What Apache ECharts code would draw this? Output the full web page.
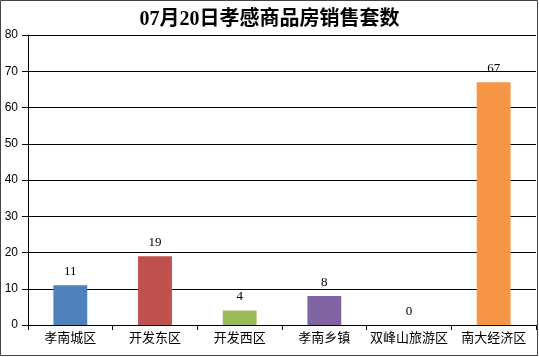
<!DOCTYPE html>
<html><head><meta charset="utf-8">
<script src="https://cdn.jsdelivr.net/npm/echarts@6/dist/echarts.min.js"></script>
<style>html,body{margin:0;padding:0;background:#fff}#c{width:539px;height:357px}</style>
</head><body><div id="c"></div>
<script>
const categories = ['孝南城区','开发东区','开发西区','孝南乡镇','双峰山旅游区','南大经济区'];
const values = [11, 19, 4, 8, 0, 67];
const colors = ['#4F81BD','#C0504D','#9BBB59','#8064A2','#4BACC6','#F79646'];
const titleText = '07月20日孝感商品房销售套数';

const chart = echarts.init(document.getElementById('c'));
chart.setOption({
  animation: false,
  backgroundColor: '#fff',
  title: {
    text: titleText, left: 'center', top: 5,
    textStyle: {fontFamily: 'Liberation Serif, Noto Sans CJK SC', fontSize: 20, fontWeight: 'bold', color: '#000'}
  },
  graphic: [{type: 'rect', shape: {x: 0.5, y: 0.5, width: 537, height: 355}, style: {fill: 'none', stroke: '#444', lineWidth: 1}}],
  grid: {left: 28, right: 3, top: 35, bottom: 32},
  xAxis: {
    type: 'category', data: categories,
    axisLine: {lineStyle: {color: '#000'}},
    axisTick: {show: true, length: 5, lineStyle: {color: '#000'}},
    axisLabel: {color: '#000', fontSize: 13, fontFamily: 'Noto Sans CJK SC', margin: 6, interval: 0}
  },
  yAxis: {
    type: 'value', min: 0, max: 80, interval: 10,
    axisLine: {show: true, lineStyle: {color: '#000'}},
    axisTick: {show: true, length: 6, lineStyle: {color: '#000'}},
    axisLabel: {color: '#000', fontSize: 12, fontFamily: 'Liberation Sans', margin: 10},
    splitLine: {lineStyle: {color: '#000', width: 1}}
  },
  series: [{
    type: 'bar', barWidth: '40%',
    data: values.map((v, i) => ({value: v, itemStyle: {color: colors[i]}})),
    label: {show: true, position: 'top', color: '#000', fontSize: 13, fontFamily: 'Liberation Serif', distance: 7}
  }]
});
</script></body></html>
